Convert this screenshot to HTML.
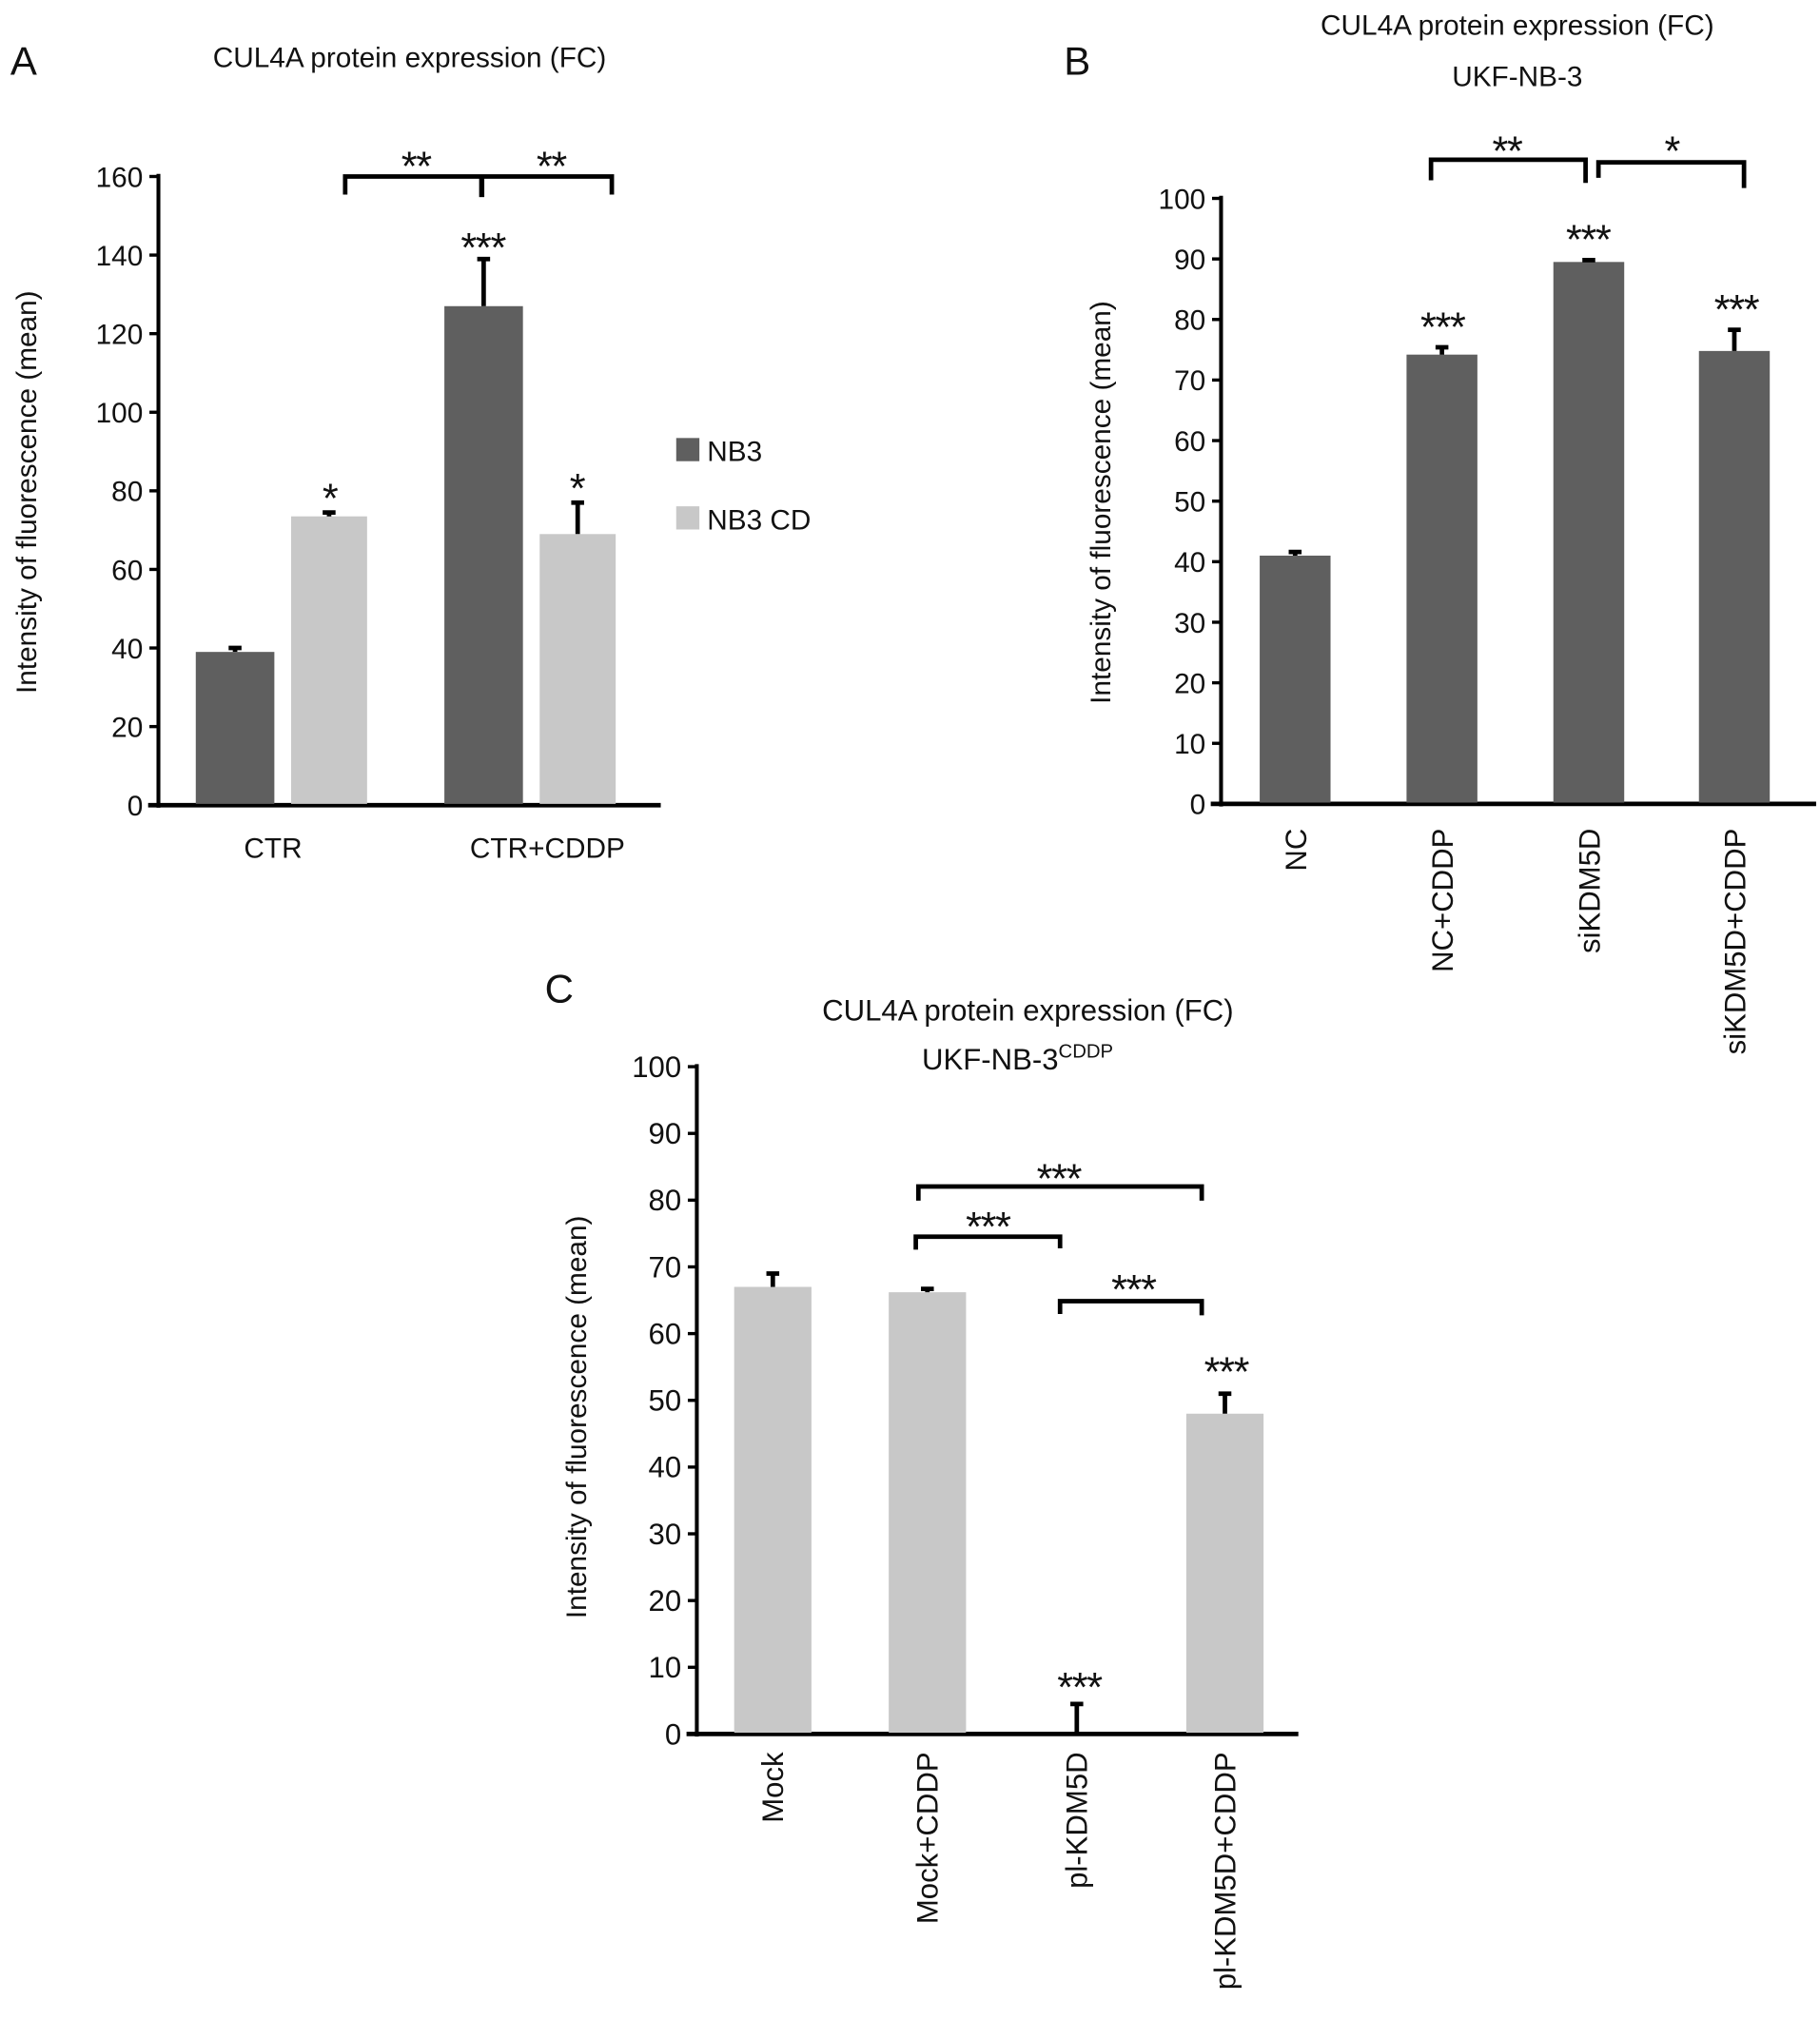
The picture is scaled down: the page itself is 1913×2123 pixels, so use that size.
<!DOCTYPE html>
<html><head><meta charset="utf-8">
<style>
html,body{margin:0;padding:0;background:#fff;}
svg{display:block;}
text{font-family:"Liberation Sans",sans-serif;fill:#111;}
</style></head>
<body>
<svg id="fig" width="1913" height="2123" viewBox="0 0 1413 1568" preserveAspectRatio="none" xmlns="http://www.w3.org/2000/svg">
<g id="static">
  <text x="8" y="58" font-size="31">A</text>
  <text x="318" y="52" font-size="22" text-anchor="middle">CUL4A protein expression (FC)</text>
  <text x="826" y="58" font-size="31">B</text>
  <text x="1178" y="27" font-size="22" text-anchor="middle">CUL4A protein expression (FC)</text>
  <text x="1178" y="67" font-size="22" text-anchor="middle">UKF-NB-3</text>
  <text x="423" y="778" font-size="31">C</text>
  <text x="798" y="792" font-size="23" text-anchor="middle">CUL4A protein expression (FC)</text>
  <text x="790" y="830" font-size="23" text-anchor="middle">UKF-NB-3<tspan font-size="15" dy="-9">CDDP</tspan></text>
  <text transform="translate(28,382) rotate(-90)" font-size="22" text-anchor="middle">Intensity of fluorescence (mean)</text>
  <text transform="translate(862,390) rotate(-90)" font-size="22" text-anchor="middle">Intensity of fluorescence (mean)</text>
  <text transform="translate(455,1100) rotate(-90)" font-size="22" text-anchor="middle">Intensity of fluorescence (mean)</text>
  <rect x="525" y="340" width="18" height="18" fill="#5f5f5f"/>
  <text x="549" y="358" font-size="22">NB3</text>
  <rect x="525" y="393" width="18" height="18" fill="#c8c8c8"/>
  <text x="549" y="411" font-size="22">NB3 CD</text>
</g>
<g id="plots"></g>
</svg>
<script>
// Panel A data
const aCategories = ["CTR", "CTR+CDDP"];
const aNB3 = [39, 127];
const aNB3err = [1, 12];
const aNB3CD = [73.5, 69];
const aNB3CDerr = [1, 8];
const aTicks = [0, 20, 40, 60, 80, 100, 120, 140, 160];
// Panel B data
const bCategories = ["NC", "NC+CDDP", "siKDM5D", "siKDM5D+CDDP"];
const bValues = [41, 74.2, 89.5, 74.8];
const bErr = [0.6, 1.2, 0.3, 3.5];
const bTicks = [0, 10, 20, 30, 40, 50, 60, 70, 80, 90, 100];
// Panel C data
const cCategories = ["Mock", "Mock+CDDP", "pl-KDM5D", "pl-KDM5D+CDDP"];
const cValues = [67, 66.2, 0, 48];
const cErr = [2, 0.5, 4.5, 3];
const cTicks = [0, 10, 20, 30, 40, 50, 60, 70, 80, 90, 100];

const NS = "http://www.w3.org/2000/svg";
const root = document.getElementById("plots");
function mk(tag, attrs, parent, txt) {
  const e = document.createElementNS(NS, tag);
  for (const k in attrs) e.setAttribute(k, attrs[k]);
  if (txt !== undefined) e.textContent = txt;
  (parent || root).appendChild(e);
  return e;
}
function yScale(y0, y1, max) { return v => y0 - (v / max) * (y0 - y1); }

function axes(g, ax, y0, xEnd, ticks, ys, tickFont) {
  const l = mk("line", {x1: ax, y1: ys(ticks[ticks.length-1]) - 2, x2: ax, y2: y0 + 2, stroke: "#000", "stroke-width": 3}, g);
  
  
  const b = mk("line", {x1: ax - 8, y1: y0, x2: xEnd, y2: y0, stroke: "#000", "stroke-width": 3.5}, g);
  
  
  ticks.forEach(t => {
    const tk = mk("line", {x1: ax - 7, y1: ys(t), x2: ax, y2: ys(t), stroke: "#000", "stroke-width": 2.5}, g);
    
    
    const tl = mk("text", {x: ax - 12, y: ys(t) + 8, "font-size": tickFont, "text-anchor": "end"}, g, String(t));
    
    
  });
}
function bar(g, x, w, v, e, ys, y0, color, name) {
  const r = mk("rect", {x: x, y: ys(v), width: w, height: y0 - ys(v), fill: color}, g);
  
  
  const cx = x + w / 2;
  const eb = mk("path", {d: `M${cx},${ys(v)} L${cx},${ys(v+e)} M${cx-5},${ys(v+e)} L${cx+5},${ys(v+e)}`, stroke: "#000", "stroke-width": 3.5, fill: "none"}, g);
  
  
}
function stars(g, x, y, s) {
  const t = mk("text", {x: x, y: y + 8, "font-size": 32, "text-anchor": "middle", "letter-spacing": "-1", "font-family": "DejaVu Sans, sans-serif"}, g, s);
  
  
}
function bracket(g, x1, x2, y, d1, d2) {
  const p = mk("path", {d: `M${x1},${y+d1} L${x1},${y} L${x2},${y} L${x2},${y+d2}`, stroke: "#000", "stroke-width": 3.5, fill: "none"}, g);
  
  
}

// ---- Panel A ----
const gA = mk("g", {});


const aY = yScale(625, 137, 160);
axes(gA, 123, 625, 513, aTicks, aY, 22);
const aGroupX = [152, 345];
aCategories.forEach((c, i) => {
  bar(gA, aGroupX[i], 61, aNB3[i], aNB3err[i], aY, 624, "#5f5f5f", "bar-nb3-" + c.toLowerCase().replace(/\+/g, '-'));
  bar(gA, aGroupX[i] + 74, 59, aNB3CD[i], aNB3CDerr[i], aY, 624, "#c8c8c8", "bar-nb3cd-" + c.toLowerCase().replace(/\+/g, '-'));
  const t = mk("text", {x: aGroupX[i] + 66 - (i ? -14 : 6), y: 666, "font-size": 22, "text-anchor": "middle"}, gA, c);
  
  
});
stars(gA, 256, aY(aNB3CD[0] + aNB3CDerr[0]) - 8, "*");
stars(gA, 448, aY(aNB3CD[1] + aNB3CDerr[1]) - 8, "*");
stars(gA, 375, aY(aNB3[1] + aNB3err[1]) - 6, "***");
bracket(gA, 268, 475, 137, 14, 14);
mk("line", {x1: 374, y1: 137, x2: 374, y2: 153, stroke: "#000", "stroke-width": 4}, gA);
stars(gA, 323, 132, "**");
stars(gA, 428, 132, "**");

// ---- Panel B ----
const gB = mk("g", {});


const bY = yScale(624, 154, 100);
axes(gB, 948, 624, 1410, bTicks, bY, 22);
const bX = [978, 1092, 1206, 1319];
bCategories.forEach((c, i) => {
  bar(gB, bX[i], 55, bValues[i], bErr[i], bY, 623, "#5f5f5f", "bar-" + c.toLowerCase().replace(/\+/g, '-'));
  const t = mk("text", {transform: `translate(${bX[i]+36},643) rotate(-90)`, "font-size": 23, "text-anchor": "end"}, gB, c);
  
  
});
stars(gB, 1120, bY(bValues[1] + bErr[1]) - 13, "***");
stars(gB, 1233, bY(bValues[2] + bErr[2]) - 13, "***");
stars(gB, 1348, bY(bValues[3] + bErr[3]) - 13, "***");
bracket(gB, 1111, 1231, 124, 16, 18);
bracket(gB, 1241, 1354, 126, 12, 20);
stars(gB, 1170, 120, "**");
stars(gB, 1298, 120, "*");

// ---- Panel C ----
const gC = mk("g", {});


const cY = yScale(1346, 828, 100);
axes(gC, 541, 1346, 1008, cTicks, cY, 23);
const cX = [570, 690, 806, 921];
cCategories.forEach((c, i) => {
  bar(gC, cX[i], 60, cValues[i], cErr[i], cY, 1345, "#c8c8c8", "bar-" + c.toLowerCase().replace(/\+/g, '-'));
  const t = mk("text", {transform: `translate(${cX[i]+38},1360) rotate(-90)`, "font-size": 23, "text-anchor": "end"}, gC, c);
  
  
});
stars(gC, 838, cY(cValues[2] + cErr[2]) - 10, "***");
stars(gC, 952, cY(cValues[3] + cErr[3]) - 14, "***");
bracket(gC, 713, 933, 921, 11, 11);
bracket(gC, 711, 823, 960, 10, 9);
bracket(gC, 823, 933, 1010, 10, 11);
stars(gC, 822, 918, "***");
stars(gC, 767, 955, "***");
stars(gC, 880, 1004, "***");
</script>
</body></html>
